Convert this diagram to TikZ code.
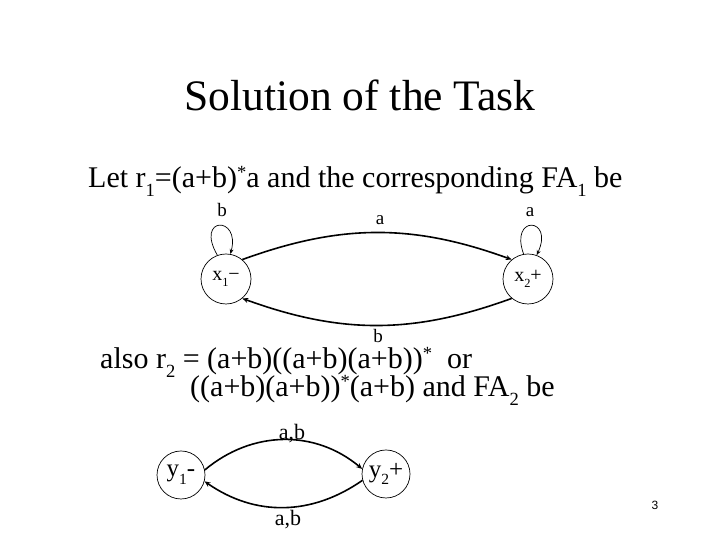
\documentclass[tikz,border=0pt]{standalone}
\usepackage{fontspec}
\setmainfont{Liberation Serif}
\newfontfamily\pagefont{Liberation Sans}
\usetikzlibrary{arrows.meta}
\newcommand\lsub[1]{\raisebox{-0.3em}{\scalebox{0.62}{#1}}}
\newcommand\hsup[1]{\raisebox{0.32em}{\scalebox{0.62}{#1}}}
\tikzset{
  state/.style={circle,draw,line width=0.7pt,minimum size=#1,inner sep=0pt},
  arc/.style={line width=1.6pt,-{Stealth[length=6pt,width=5pt]}},
  loopline/.style={line width=0.7pt,-{Stealth[length=5pt,width=4pt]}},
  lbl/.style={inner sep=0pt},
}
\begin{document}
\begin{tikzpicture}[x=1pt,y=1pt]
\useasboundingbox (0,0) rectangle (720,540);
% title and text
\node[lbl,anchor=base] (title) at (360,429) {\fontsize{43.5}{50}\selectfont Solution of the Task};
\node[lbl,anchor=base west] (line1) at (88,352) {\fontsize{30}{36}\selectfont Let r\lsub{1}=(a+b)\hsup{*}a and the corresponding FA\lsub{1} be};
\node[lbl,anchor=base west] (line2) at (100,171) {\fontsize{30}{36}\selectfont also r\lsub{2} = (a+b)((a+b)(a+b))\hsup{*}\ \ or};
\node[lbl,anchor=base west] (line3) at (190,143) {\fontsize{30}{36}\selectfont ((a+b)(a+b))\hsup{*}(a+b) and FA\lsub{2} be};
% FA1
\node[state=50pt] (x1) at (226,261) {\fontsize{20}{24}\selectfont x\lsub{1}−};
\node[state=50pt] (x2) at (528,261) {\fontsize{20}{24}\selectfont x\lsub{2}+};
\draw[arc] (x1.50) to[out=20,in=160] (x2.130);
\draw[arc] (x2.-130) to[out=200,in=-20] (x1.-50);
\node[lbl] (la) at (380,320) {\fontsize{19}{22}\selectfont a};
\node[lbl] (lb) at (378,204) {\fontsize{19}{22}\selectfont b};
\draw[loopline] (x1.110) .. controls +(120:45) and +(75:40) .. (x1.80);
\node[lbl] (lloop1) at (222,330) {\fontsize{19}{22}\selectfont b};
\draw[loopline] (x2.100) .. controls +(110:42) and +(65:42) .. (x2.70);
\node[lbl] (lloop2) at (530,328) {\fontsize{19}{22}\selectfont a};
% FA2
\node[state=48pt] (y1) at (181,65) {\fontsize{25}{30}\selectfont y\lsub{1}-};
\node[state=48pt] (y2) at (386,66) {\fontsize{25}{30}\selectfont y\lsub{2}+};
\draw[arc] (y1.12) to[out=40,in=140] (y2.168);
\draw[arc] (y2.-165) to[out=215,in=-35] (y1.-15);
\node[lbl] (lab1) at (292,106) {\fontsize{22}{26}\selectfont a,b};
\node[lbl] (lab2) at (288,20) {\fontsize{22}{26}\selectfont a,b};
% page number
\node[lbl] (page) at (655,35) {\pagefont\fontsize{12}{14}\selectfont 3};
\end{tikzpicture}
\end{document}
